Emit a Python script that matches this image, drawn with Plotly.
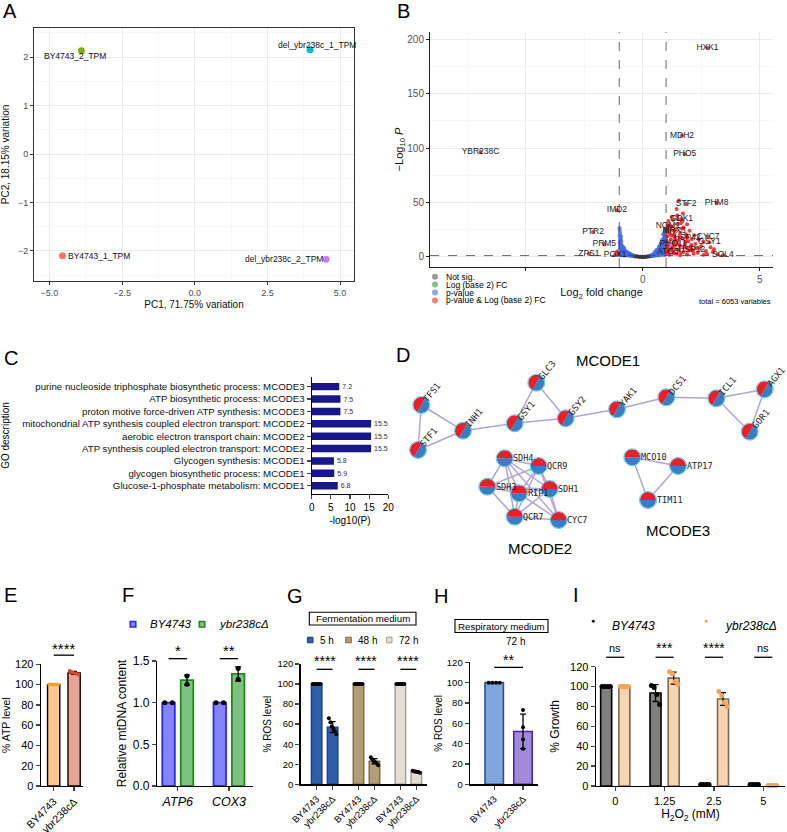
import math
import plotly.graph_objects as go

W, H = 787, 832
SANS = "Liberation Sans, Arial, Helvetica, sans-serif"
MONO = "DejaVu Sans Mono, monospace"

# ======================= DATA =======================
# ---- A: PCA ----
pca_samples = ["BY4743_1_TPM", "BY4743_2_TPM", "del_ybr238c_1_TPM", "del_ybr238c_2_TPM"]
pca_pc1 = [-4.55, -3.90, 3.97, 4.52]
pca_pc2 = [-2.10, 2.13, 2.15, -2.17]
pca_var = [71.75, 18.15]

# ---- B: volcano ----
volc_label_genes = ["HXK1", "MDH2", "PHO5", "YBR238C", "PHM8", "STF2", "IMD2", "GDK1", "NQM1", "MRX3",
                    "PTR2", "HSP42", "CYC7", "GSY1", "PRM5", "PHO11", "HSP12", "ATO3", "ZPS1", "POX1", "SOL4"]
volc_label_lfc = [2.77, 1.68, 1.80, -6.93, 3.16, 1.86, -1.10, 1.66, 1.08, 1.34,
                  -2.12, 1.90, 2.80, 2.85, -1.64, 1.30, 2.10, 1.08, -2.30, -1.18, 3.43]
volc_label_mlogp = [192, 111.5, 94.5, 96.5, 49.6, 48.7, 43, 35, 29, 24,
                    23, 18, 18.7, 13.5, 11.6, 12.3, 6.7, 4.9, 2.8, 1.8, 1.6]
volc_both_lfc = [1.55, 1.45, 1.72, 1.48, 1.30, 1.10, 1.62, 1.90, 1.25, 1.75,
                 1.05, 1.40, 2.00, 1.15, 1.60, 1.85, 2.20, 1.05, 1.35, 1.70,
                 2.40, 1.20, 1.50, 1.95, 2.60, 1.10, 1.80, 2.25, 1.40, 1.02,
                 1.60, 2.05, 2.90, 1.25, 1.90, 2.45, 1.10, 1.55, 2.15, 2.70,
                 1.30, 1.75, 1.05, 2.35, 1.45, 1.90, 1.15, 2.60, 3.20, 1.60,
                 3.00, 1.35, 2.10, 1.05, 1.25, -1.10, -1.04,
                 1.02, 1.08, 1.12, 1.18, 1.22, 1.28, 1.33, 1.38, 1.42, 1.47,
                 1.52, 1.58, 1.64, 1.68, 1.78, 1.83, 1.88, 1.98, 2.08, 2.18,
                 2.28, 2.50, 2.75, 3.05, 1.50, 1.20, 1.70, 1.35]
volc_both_mlogp = [52, 44, 40, 38, 34, 33, 31, 30, 28, 27,
                   26, 25, 24, 22, 22, 21, 20, 19, 19, 17,
                   16, 16, 15, 14.5, 14, 13, 12, 12, 11, 10,
                   10, 9.5, 9, 8.5, 8, 7.5, 7, 6.5, 6, 5.5,
                   5, 4.5, 4, 4, 3, 2.5, 2, 2, 2.5, 1.6,
                   4.5, 14, 16.5, 23, 37, 5, 3,
                   15, 10, 29, 6, 20, 9, 3.5, 17, 7, 30,
                   12, 18, 4, 26, 9, 14, 19, 6, 11, 3,
                   8, 10, 2.8, 7, 35, 25, 33, 21]
volc_p_lfc = [-0.99, -0.97, -0.96, -0.94, -0.98, -0.92, -0.95, -0.90, -0.97, -0.88,
              -0.86, -0.93, -0.83, -0.80, -0.90, -0.77, -0.74, -0.85, -0.70, -0.96,
              -0.67, -0.80, -0.63, -0.92, -0.60, -0.75, -0.57, -0.86, -0.54, -0.68,
              -0.98, -0.50, -0.62, -0.46, -0.79, -0.42, -0.56, -0.89, -0.72, -0.95,
              -0.91, -0.84, -0.78, -0.71, -0.65, -0.58, -0.52,
              -0.99, -0.98, -0.97, -0.96, -0.95, -0.94, -0.93, -0.91, -0.89, -0.87,
              -0.85, -0.82, -0.80, -0.77, -0.73, -0.69, -0.66, -0.61, -0.55, -0.49,
              0.99, 0.97, 0.95, 0.98, 0.93, 0.96, 0.91, 0.99, 0.88, 0.94,
              0.86, 0.97, 0.84, 0.90, 0.81, 0.95, 0.78, 0.87, 0.75, 0.92,
              0.72, 0.83, 0.69, 0.98, 0.66, 0.79, 0.63, 0.89, 0.60, 0.74,
              0.57, 0.85, 0.54, 0.68, 0.51, 0.96, 0.48, 0.62, 0.45, 0.80,
              0.42, 0.56, 0.39, 0.72, 0.93, 0.36, 0.50, 0.64, 0.99, 0.92,
              0.85, 0.77, 0.70, 0.60, 0.53,
              0.99, 0.98, 0.97, 0.96, 0.95, 0.94, 0.93, 0.92, 0.91, 0.90,
              0.89, 0.88, 0.87, 0.86, 0.84, 0.82, 0.80, 0.78, 0.76, 0.74,
              0.71, 0.68, 0.65, 0.62, 0.58, 0.55, 0.52, 0.47, 0.44, 0.41]
volc_p_mlogp = [26.5, 22, 18, 16, 13, 11, 9.5, 8.5, 7, 7.5,
                6, 5.2, 5.5, 4.6, 4.2, 4, 3.5, 3.2, 3.1, 3,
                2.8, 2.6, 2.5, 2.3, 2.2, 2.1, 2.0, 1.9, 1.8, 1.75,
                1.7, 1.6, 1.55, 1.5, 1.5, 1.4, 1.38, 1.4, 1.35, 12,
                14, 9, 6.8, 5, 4.2, 3.3, 2.6,
                20, 24, 15, 10, 17, 8, 19, 6.5, 10.5, 5,
                7, 4, 8.5, 5.8, 4.8, 3.8, 2.2, 3.0, 2.4, 1.9,
                25, 23, 21, 19, 17.5, 16, 15, 14, 13, 12.5,
                11.5, 11, 10.2, 9.8, 9, 8.5, 8, 7.6, 7, 6.8,
                6.2, 6, 5.4, 5.5, 4.8, 4.6, 4.2, 4.3, 3.7, 3.5,
                3.2, 3.1, 2.8, 2.7, 2.4, 2.5, 2.1, 2.0, 1.8, 1.9,
                1.6, 1.55, 1.45, 1.5, 1.6, 1.35, 1.35, 1.4, 10, 20,
                14, 12, 9.5, 6.5, 5,
                17, 22, 8, 13, 24, 18, 11, 14.5, 6, 16.5,
                9.5, 21, 12, 5, 16, 7.5, 13.5, 10.5, 5.6, 9,
                7.8, 4, 6.2, 3.1, 4.5, 2.3, 3.6, 2.6, 2.0, 1.7]
volc_ns_lfc = [-0.52, -0.47, -0.43, -0.40, -0.36, -0.33, -0.30, -0.27, -0.24, -0.21,
               -0.18, -0.15, -0.12, -0.09, -0.06, -0.03, 0.0, 0.03, 0.06, 0.09,
               0.12, 0.15, 0.18, 0.21, 0.24, 0.27, 0.30, 0.33, 0.36, 0.40,
               0.44, 0.48, 0.52, -0.35, -0.25, -0.15, -0.05, 0.05, 0.15, 0.25,
               0.35, -0.28, 0.28, -0.10, 0.10, 0.0, -0.20, 0.20]
volc_ns_mlogp = [1.25, 1.1, 1.0, 0.9, 0.8, 0.7, 0.6, 0.5, 0.42, 0.35,
                 0.28, 0.2, 0.14, 0.09, 0.05, 0.02, 0.0, 0.02, 0.05, 0.09,
                 0.14, 0.2, 0.28, 0.35, 0.43, 0.52, 0.62, 0.72, 0.84, 0.98,
                 1.1, 1.2, 1.28, 0.3, 0.15, 0.06, 0.01, 0.02, 0.08, 0.2,
                 0.4, 0.9, 1.0, 0.45, 0.5, 0.35, 0.75, 0.8]
volc_total = 6053
volc_fc_cut = 1.0
volc_p_cut = 0.05
volc_legend = ["Not sig.", "Log (base 2) FC", "p-value", "p-value & Log (base 2) FC"]

# ---- C: GO enrichment ----
go_terms = ["purine nucleoside triphosphate biosynthetic process: MCODE3",
            "ATP biosynthetic process: MCODE3",
            "proton motive force-driven ATP synthesis: MCODE3",
            "mitochondrial ATP synthesis coupled electron transport: MCODE2",
            "aerobic electron transport chain: MCODE2",
            "ATP synthesis coupled electron transport: MCODE2",
            "Glycogen synthesis: MCODE1",
            "glycogen biosynthetic process: MCODE1",
            "Glucose-1-phosphate metabolism: MCODE1"]
go_mlog10p = [7.2, 7.5, 7.5, 15.5, 15.5, 15.5, 5.8, 5.9, 6.8]

# ---- D: MCODE networks (layout coordinates) ----
m1_nodes = ["TFS1", "STF1", "INH1", "GSY1", "GLC3", "GSY2", "YAK1", "DCS1", "ICL1", "AGX1", "GOR1"]
m1_x = [421.3, 418.0, 463.0, 514.7, 536.3, 565.7, 617.0, 666.3, 716.3, 764.7, 749.7]
m1_y = [405.0, 450.0, 430.7, 423.3, 382.7, 418.3, 409.3, 397.3, 398.3, 389.3, 431.7]
m1_edges = [("TFS1", "STF1"), ("TFS1", "INH1"), ("STF1", "INH1"), ("INH1", "GSY1"), ("GSY1", "GLC3"),
            ("GLC3", "GSY2"), ("GSY1", "GSY2"), ("GSY2", "YAK1"), ("YAK1", "DCS1"), ("DCS1", "ICL1"),
            ("ICL1", "AGX1"), ("ICL1", "GOR1"), ("AGX1", "GOR1")]
m2_nodes = ["SDH4", "QCR9", "SDH3", "RIP1", "SDH1", "QCR7", "CYC7"]
m2_x = [504.7, 538.7, 487.3, 519.0, 549.7, 514.7, 558.7]
m2_y = [458.3, 466.0, 486.7, 493.3, 489.0, 516.7, 520.0]
m2_edges = [("SDH4", "QCR9"), ("SDH4", "SDH3"), ("SDH4", "RIP1"), ("SDH4", "SDH1"), ("SDH4", "QCR7"),
            ("SDH4", "CYC7"), ("QCR9", "SDH3"), ("QCR9", "RIP1"), ("QCR9", "SDH1"), ("QCR9", "QCR7"),
            ("QCR9", "CYC7"), ("SDH3", "RIP1"), ("SDH3", "SDH1"), ("SDH3", "QCR7"), ("RIP1", "SDH1"),
            ("RIP1", "QCR7"), ("RIP1", "CYC7"), ("SDH1", "QCR7"), ("SDH1", "CYC7"), ("QCR7", "CYC7")]
m3_nodes = ["MCO10", "ATP17", "TIM11"]
m3_x = [632.3, 678.0, 648.0]
m3_y = [457.3, 466.0, 500.0]
m3_edges = [("MCO10", "ATP17"), ("MCO10", "TIM11"), ("ATP17", "TIM11")]
mcode_titles = ["MCODE1", "MCODE2", "MCODE3"]
mcode_title_x = [608.0, 540.3, 678.0]
mcode_title_y = [360.0, 548.3, 530.0]

# ---- E: ATP ----
strains = ["BY4743", "ybr238cΔ"]
atp_mean = [100.0, 111.5]
atp_sd = [0.0, 1.5]
atp_points = [[100, 100, 100, 100], [113.5, 112.0, 111.0, 110.0]]
atp_sig = "****"

# ---- F: mtDNA ----
mt_genes = ["ATP6", "COX3"]
mt_by_mean = [1.0, 1.0]
mt_ybr_mean = [1.27, 1.345]
mt_ybr_sd = [0.06, 0.085]
mt_by_points = [[1.0, 1.0], [1.0, 1.0]]
mt_ybr_points = [[1.32, 1.22], [1.41, 1.28]]
mt_sig = ["*", "**"]

# ---- G: ROS fermentation ----
ros_times = ["5 h", "48 h", "72 h"]
ros_by_mean = [100.0, 100.0, 100.0]
ros_ybr_mean = [57.0, 23.0, 12.5]
ros_ybr_sd = [5.5, 2.6, 0.8]
ros_by_points = [[100, 100, 100, 100, 100, 100], [100, 100, 100, 100, 100, 100], [100, 100, 100, 100, 100, 100]]
ros_ybr_points = [[66, 62, 58, 56, 53, 50], [27, 25, 23, 22, 21, 19], [13.4, 13.0, 12.7, 12.3, 12.0, 11.6]]
ros_sig = ["****", "****", "****"]

# ---- H: ROS respiratory ----
resp_mean = [100.0, 52.0]
resp_sd = [0.0, 17.0]
resp_points = [[100, 100, 100, 100], [73, 56, 44, 35]]
resp_sig = "**"

# ---- I: H2O2 growth ----
h2o2_mM = ["0", "1.25", "2.5", "5"]
gr_by_mean = [100.0, 93.5, 1.5, 1.5]
gr_by_sd = [0.0, 8.5, 0.0, 0.0]
gr_ybr_mean = [100.0, 108.5, 87.5, 0.5]
gr_ybr_sd = [0.0, 6.0, 6.5, 0.0]
gr_by_points = [[100, 100, 100, 100], [101, 99, 92, 82], [1.5, 1.5, 1.5, 1.5], [1.5, 1.5, 1.5, 1.5]]
gr_ybr_points = [[100, 100, 100, 100, 100], [115, 113, 105, 102], [95, 91, 84, 80], [0.5, 0.5, 0.5, 0.5, 0.5]]
gr_sig = ["ns", "***", "****", "ns"]

# ======================= LAYOUT GEOMETRY =======================
P = {
    'A': dict(px=(34, 354), py=(28, 281), xr=(-5.53, 5.48), yr=(-2.62, 2.60), ax=''),
    'B': dict(px=(430, 773), py=(32, 267), xr=(-9.09, 5.57), yr=(-9.2, 206.7), ax='2'),
    'C': dict(px=(311.7, 388.3), py=(377, 494), xr=(0, 20), yr=(8.67, -0.78), ax='3'),
    'D': dict(px=(395, 787), py=(342, 565), xr=(395, 787), yr=(565, 342), ax='4'),
    'E': dict(px=(41, 83.3), py=(664.3, 786), xr=(-0.62, 1.45), yr=(0, 120), ax='5'),
    'F': dict(px=(157.3, 253), py=(661, 786), xr=(-0.40, 1.47), yr=(0, 1.5), ax='6'),
    'G': dict(px=(300.7, 426.7), py=(664, 784.3), xr=(-1.0, 6.9), yr=(0, 120), ax='7'),
    'H': dict(px=(470, 538), py=(662.3, 784.3), xr=(-0.84, 1.52), yr=(0, 120), ax='8'),
    'I': dict(px=(596, 785), py=(666.7, 786), xr=(-0.39, 3.44), yr=(0, 120), ax='9'),
}


def fx(p, v):
    x0, x1 = P[p]['px']
    r0, r1 = P[p]['xr']
    return (x0 + (v - r0) / (r1 - r0) * (x1 - x0)) / W


def fy(p, v):
    y0, y1 = P[p]['py']
    r0, r1 = P[p]['yr']
    return 1 - (y1 - (v - r0) / (r1 - r0) * (y1 - y0)) / H


def ppx(x):
    return x / W


def ppy(y):
    return 1 - y / H


def refs(p):
    a = P[p]['ax']
    return dict(xaxis='x' + a, yaxis='y' + a)


def xaxis_base(p, **kw):
    d = dict(domain=[P[p]['px'][0] / W, P[p]['px'][1] / W], range=list(P[p]['xr']),
             anchor='y' + P[p]['ax'], zeroline=False, showgrid=False, automargin=False)
    d.update(kw)
    return d


def yaxis_base(p, **kw):
    d = dict(domain=[1 - P[p]['py'][1] / H, 1 - P[p]['py'][0] / H], range=list(P[p]['yr']),
             anchor='x' + P[p]['ax'], zeroline=False, showgrid=False, automargin=False)
    d.update(kw)
    return d


fig = go.Figure()
ann = []
shp = []
lay = {}


def text(x, y, s, size, xanchor='center', yanchor='middle', color='black', angle=0, family=SANS, xref='paper', yref='paper'):
    ann.append(dict(x=x, y=y, xref=xref, yref=yref, text=s, showarrow=False, xanchor=xanchor,
                    yanchor=yanchor, textangle=angle, font=dict(size=size, color=color, family=family)))


def spread(n, width):
    if n == 1:
        return [0.0]
    return [(k - (n - 1) / 2) * width / (n - 1) for k in range(n)]


# ======================= A =======================
pca_colors = ["#F8766D", "#7CAE00", "#00BFC4", "#C77CFF"]
for s, x, y, c in zip(pca_samples, pca_pc1, pca_pc2, pca_colors):
    fig.add_trace(go.Scatter(x=[x], y=[y], mode='markers', marker=dict(size=7, color=c),
                             showlegend=False, hoverinfo='skip', **refs('A')))
pca_label_style = [dict(xanchor='left', xshift=4, yshift=0),
                   dict(xanchor='center', xshift=-6, yshift=-5.5),
                   dict(xanchor='center', xshift=7, yshift=4.5),
                   dict(xanchor='right', xshift=-1, yshift=0)]
for s, x, y, st in zip(pca_samples, pca_pc1, pca_pc2, pca_label_style):
    ann.append(dict(x=x, y=y, xref='x', yref='y', text=s, showarrow=False, xanchor=st['xanchor'],
                    yanchor='middle', xshift=st['xshift'], yshift=st['yshift'],
                    font=dict(size=8.5, color='#111', family=SANS)))
grid_major = '#EBEBEB'
grid_minor = '#F3F3F3'
lay['xaxis'] = xaxis_base('A', tick0=0, dtick=2.5, tickformat='.1f', showgrid=True, gridcolor=grid_major,
                          gridwidth=1, minor=dict(dtick=1.25, tick0=0, showgrid=True, gridcolor=grid_minor, gridwidth=0.6),
                          showline=True, mirror=True, linecolor='#333', linewidth=1, ticks='outside', ticklen=3,
                          tickcolor='#333', tickfont=dict(size=9, color='#4D4D4D'),
                          title=dict(text=f"PC1, {pca_var[0]}% variation", font=dict(size=10, color='#111'), standoff=4))
lay['yaxis'] = yaxis_base('A', tick0=0, dtick=1, showgrid=True, gridcolor=grid_major, gridwidth=1,
                          minor=dict(dtick=0.5, tick0=0, showgrid=True, gridcolor=grid_minor, gridwidth=0.6),
                          showline=True, mirror=True, linecolor='#333', linewidth=1, ticks='outside', ticklen=3,
                          tickcolor='#333', tickfont=dict(size=9, color='#4D4D4D'),
                          title=dict(text=f"PC2, {pca_var[1]}% variation", font=dict(size=10, color='#111'), standoff=6))

# ======================= B =======================
fig.add_trace(go.Scatter(x=volc_ns_lfc, y=volc_ns_mlogp, mode='markers', showlegend=False, hoverinfo='skip',
                         marker=dict(size=3.5, color='#3A3A3A', opacity=0.8), **refs('B')))
fig.add_trace(go.Scatter(x=volc_p_lfc, y=volc_p_mlogp, mode='markers', showlegend=False, hoverinfo='skip',
                         marker=dict(size=4.2, color='#4169E1', opacity=0.75), **refs('B')))
fig.add_trace(go.Scatter(x=volc_both_lfc, y=volc_both_mlogp, mode='markers', showlegend=False, hoverinfo='skip',
                         marker=dict(size=4.0, color='#EE0000', opacity=0.75), **refs('B')))
fig.add_trace(go.Scatter(x=volc_label_lfc, y=volc_label_mlogp, mode='markers+text', text=volc_label_genes,
                         textposition='middle center', textfont=dict(size=8.5, color='#1A1A1A', family=SANS),
                         cliponaxis=False, showlegend=False, hoverinfo='skip',
                         marker=dict(size=4.0, color='#EE0000', opacity=0.75), **refs('B')))
p_line = -math.log10(volc_p_cut)
for xv in (-volc_fc_cut, volc_fc_cut):
    shp.append(dict(type='line', xref='x2', yref='y2 domain', x0=xv, x1=xv, y0=0, y1=1,
                    line=dict(color='#444', width=0.8, dash='dash')))
shp.append(dict(type='line', xref='x2 domain', yref='y2', x0=0, x1=1, y0=p_line, y1=p_line,
                line=dict(color='#444', width=0.8, dash='dash')))
lay['xaxis2'] = xaxis_base('B', tickvals=[-5, 0, 5], ticktext=['', '0', '5'], showgrid=True, gridcolor=grid_major,
                           gridwidth=1, minor=dict(dtick=2.5, tick0=0, showgrid=True, gridcolor=grid_minor, gridwidth=0.6),
                           showline=True, linecolor='#222', linewidth=1, ticks='outside', ticklen=3,
                           tickcolor='#222', tickfont=dict(size=10, color='#555'),
                           title=dict(text="Log<sub>2</sub> fold change", font=dict(size=11, color='#111'), standoff=4))
lay['yaxis2'] = yaxis_base('B', tick0=0, dtick=50, showgrid=True, gridcolor=grid_major, gridwidth=1,
                           minor=dict(dtick=25, tick0=0, showgrid=True, gridcolor=grid_minor, gridwidth=0.6),
                           showline=True, linecolor='#222', linewidth=1, ticks='outside', ticklen=3,
                           tickcolor='#222', tickfont=dict(size=10, color='#555'),
                           title=dict(text="−Log<sub>10</sub> <i>P</i>", font=dict(size=11, color='#111'), standoff=1))
volc_legend_colors = ['#9A9A9A', '#80C080', '#93A9F2', '#F58080']
for i, (lbl, col) in enumerate(zip(volc_legend, volc_legend_colors)):
    yc = 276.7 + i * 7.9
    shp.append(dict(type='circle', xref='paper', yref='paper', x0=ppx(432), x1=ppx(438), y0=ppy(yc + 3), y1=ppy(yc - 3),
                    fillcolor=col, line=dict(width=0)))
    text(ppx(444), ppy(yc), lbl, 8.5, xanchor='left')
text(ppx(773), ppy(302), f"total = {volc_total} variables", 7.5, xanchor='right')

# ======================= C =======================
fig.add_trace(go.Bar(x=go_mlog10p, y=list(range(len(go_terms))), orientation='h', width=0.6,
                     marker=dict(color='#17178A', line=dict(width=0)),
                     text=[f"{v:.1f}" for v in go_mlog10p], textposition='outside',
                     textfont=dict(size=7, color='#333'), cliponaxis=False, showlegend=False, hoverinfo='skip',
                     **refs('C')))
lay['xaxis3'] = xaxis_base('C', tickvals=[0, 5, 10, 15, 20], showline=True, linecolor='black', linewidth=1.2,
                           ticks='outside', ticklen=4, tickwidth=1.2, tickfont=dict(size=10),
                           title=dict(text="-log10(P)", font=dict(size=10), standoff=4))
lay['yaxis3'] = yaxis_base('C', tickvals=list(range(len(go_terms))), ticktext=go_terms, showline=True,
                           linecolor='black', linewidth=1.2, ticks='outside', ticklen=4, tickwidth=1.2,
                           tickfont=dict(size=9.7, color='#111'),
                           title=dict(text="GO description", font=dict(size=10), standoff=12))

# ======================= D =======================
NODE_R = 8.0
RED = '#E8202A'
BLUE = '#3A7EC2'


def half_disc(cx, cy, a0, a1, n=24):
    xs, ys = [], []
    for k in range(n + 1):
        a = math.radians(a0 + (a1 - a0) * k / n)
        xs.append(cx + NODE_R * math.cos(a))
        ys.append(cy + NODE_R * math.sin(a))
    return xs, ys


def draw_cluster(nodes, xs, ys, edges, red_span, label_mode):
    pos = {n: (x, y) for n, x, y in zip(nodes, xs, ys)}
    ex, ey = [], []
    for a, b in edges:
        ex += [pos[a][0], pos[b][0], None]
        ey += [pos[a][1], pos[b][1], None]
    fig.add_trace(go.Scatter(x=ex, y=ey, mode='lines', line=dict(color='#B3A4D8', width=1.5),
                             showlegend=False, hoverinfo='skip', **refs('D')))
    rx, ry, bx, by = [], [], [], []
    for n in nodes:
        cx, cy = pos[n]
        a, b = half_disc(cx, cy, red_span[0], red_span[1])
        rx += a + [None]
        ry += b + [None]
        a, b = half_disc(cx, cy, red_span[1], red_span[0] + 360)
        bx += a + [None]
        by += b + [None]
    fig.add_trace(go.Scatter(x=bx, y=by, mode='lines', fill='toself', fillcolor=BLUE, line=dict(width=0),
                             showlegend=False, hoverinfo='skip', **refs('D')))
    fig.add_trace(go.Scatter(x=rx, y=ry, mode='lines', fill='toself', fillcolor=RED, line=dict(width=0),
                             showlegend=False, hoverinfo='skip', **refs('D')))
    fig.add_trace(go.Scatter(x=list(xs), y=list(ys), mode='markers',
                             marker=dict(size=2 * NODE_R + 1, color='rgba(0,0,0,0)', line=dict(color='#5CC3EE', width=1)),
                             showlegend=False, hoverinfo='skip', **refs('D')))
    for n in nodes:
        cx, cy = pos[n]
        if label_mode == 'rot':
            L = len(n) * 0.602 * 9
            ang = math.radians(50)
            sx, sy = cx + 4, cy - 4.5
            tx, ty = sx + L / 2 * math.cos(ang), sy - L / 2 * math.sin(ang)
            text(tx, ty, n, 9, angle=-50, family=MONO, color='#222', xref='x4', yref='y4')
        else:
            text(cx + 6.5, cy, n, 8.5, xanchor='left', family=MONO, color='#222', xref='x4', yref='y4')


draw_cluster(m1_nodes, m1_x, m1_y, m1_edges, (120, 300), 'rot')
draw_cluster(m2_nodes, m2_x, m2_y, m2_edges, (180, 360), 'flat')
draw_cluster(m3_nodes, m3_x, m3_y, m3_edges, (180, 360), 'flat')
for t, x, y in zip(mcode_titles, mcode_title_x, mcode_title_y):
    text(x, y, t, 15, xref='x4', yref='y4')
lay['xaxis4'] = xaxis_base('D', visible=False)
lay['yaxis4'] = yaxis_base('D', visible=False)

# ======================= bar panels helpers =======================


def bar_x(p, tickvals, ticktext, size, angle=0, **kw):
    return xaxis_base(p, tickvals=tickvals, ticktext=ticktext, tickangle=angle, showline=True, linecolor='black',
                      linewidth=1.4, ticks='outside', ticklen=4, tickwidth=1.4, tickfont=dict(size=size), **kw)


def bar_y(p, dtick, size, title, tsize, standoff, fmt=None):
    d = yaxis_base(p, tick0=0, dtick=dtick, showline=True, linecolor='black', linewidth=1.4, ticks='outside',
                   ticklen=4, tickwidth=1.4, tickfont=dict(size=size),
                   title=dict(text=title, font=dict(size=tsize), standoff=standoff))
    if fmt:
        d['tickformat'] = fmt
    return d


def add_bar(p, x, y, w, fill, edge, lw=1.4, sd=None):
    kw = {}
    if sd is not None:
        kw['error_y'] = dict(type='data', array=sd, visible=True, color='black', thickness=1.3, width=3)
    fig.add_trace(go.Bar(x=x, y=y, width=w, marker=dict(color=fill, line=dict(color=edge, width=lw)),
                         showlegend=False, hoverinfo='skip', **kw, **refs(p)))


def add_dots(p, xc, pts, w, color, size=4.5):
    offs = spread(len(pts), w)
    fig.add_trace(go.Scatter(x=[xc + o for o in offs], y=pts, mode='markers', cliponaxis=False,
                             marker=dict(size=size, color=color), showlegend=False, hoverinfo='skip', **refs(p)))


def add_sig(p, xa, xb, yline, ytext, s, size):
    shp.append(dict(type='line', xref='paper', yref='paper', x0=fx(p, xa), x1=fx(p, xb),
                    y0=fy(p, yline), y1=fy(p, yline), line=dict(color='black', width=1.3)))
    text(fx(p, (xa + xb) / 2), fy(p, ytext), s, size)


# ======================= E =======================
E_W = 0.6
e_fill = ['#FFC98C', '#EBA391']
e_dot = ['#F5A030', '#E0452D']
for i in range(2):
    add_bar('E', [i], [atp_mean[i]], E_W, e_fill[i], 'black', sd=[atp_sd[i]] if atp_sd[i] > 0 else None)
    add_dots('E', i, atp_points[i], E_W * 0.7, e_dot[i], 4)
add_sig('E', 0, 1, 129, 136, atp_sig, 15)
lay['xaxis5'] = bar_x('E', [0, 1], strains, 10.5, -45)
lay['yaxis5'] = bar_y('E', 20, 11, "% ATP level", 10.5, 6)

# ======================= F =======================
F_W = 0.245
F_OFF = 0.18
for i in range(2):
    add_bar('F', [i - F_OFF], [mt_by_mean[i]], F_W, '#8484FF', '#2A2AF0', lw=1.8)
    add_bar('F', [i + F_OFF], [mt_ybr_mean[i]], F_W, '#80C080', '#1E8A1E', lw=1.8, sd=[mt_ybr_sd[i]])
    add_dots('F', i - F_OFF, mt_by_points[i], F_W * 0.6, 'black', 5)
    fig.add_trace(go.Scatter(x=[i + F_OFF, i + F_OFF], y=mt_ybr_points[i], mode='markers', cliponaxis=False,
                             marker=dict(size=5, color='black'), showlegend=False, hoverinfo='skip', **refs('F')))
    add_sig('F', i - F_OFF, i + F_OFF, 1.528, 1.625, mt_sig[i], 15)
lay['xaxis6'] = bar_x('F', [0, 1], [f"<i>{g}</i>" for g in mt_genes], 12.5)
lay['yaxis6'] = bar_y('F', 0.5, 12, "Relative mtDNA content", 12, 3, fmt='.1f')
# legend F
for (cx, fill, edge, lab) in [(133, '#8484FF', '#2A2AF0', strains[0]), (202, '#80C080', '#1E8A1E', strains[1])]:
    shp.append(dict(type='rect', xref='paper', yref='paper', x0=ppx(cx - 2.8), x1=ppx(cx + 2.8),
                    y0=ppy(624.3 + 2.8), y1=ppy(624.3 - 2.8), fillcolor=fill, line=dict(color=edge, width=1.5)))
    text(ppx(cx + 14.5), ppy(624.3), f"<i>{lab}</i>", 11.5, xanchor='left')

# ======================= G =======================
G_STEP = 2.625
G_W = 0.66
g_fill = ['#2F5DAA', '#B39D72', '#E2DED3']
g_edge = ['#1D3F82', '#7D6844', '#A29E92']
g_ticks, g_text = [], []
for gi in range(3):
    xb, xy_ = gi * G_STEP, gi * G_STEP + 1
    add_bar('G', [xb], [ros_by_mean[gi]], G_W, g_fill[gi], g_edge[gi])
    add_bar('G', [xy_], [ros_ybr_mean[gi]], G_W, g_fill[gi], g_edge[gi], sd=[ros_ybr_sd[gi]])
    add_dots('G', xb, ros_by_points[gi], G_W * 0.75, 'black', 4)
    add_dots('G', xy_, ros_ybr_points[gi], G_W * 0.7, 'black', 4)
    add_sig('G', xb, xy_, 114.7, 123, ros_sig[gi], 14)
    g_ticks += [xb, xy_]
    g_text += strains
lay['xaxis7'] = bar_x('G', g_ticks, g_text, 9.5, -45)
lay['yaxis7'] = bar_y('G', 20, 9.5, "% ROS level", 10, 4)
shp.append(dict(type='rect', xref='paper', yref='paper', x0=ppx(309.3), x1=ppx(416), y0=ppy(625), y1=ppy(612.3),
                fillcolor='white', line=dict(color='black', width=1.1)))
text(ppx(362.6), ppy(618.8), "Fermentation medium", 9.7)
g_leg_sq = [310.2, 348.5, 389.2]
for gi in range(3):
    cx = g_leg_sq[gi]
    shp.append(dict(type='rect', xref='paper', yref='paper', x0=ppx(cx - 2.8), x1=ppx(cx + 2.8),
                    y0=ppy(640 + 2.8), y1=ppy(640 - 2.8), fillcolor=g_fill[gi], line=dict(color=g_edge[gi], width=1)))
    text(ppx(cx + 7.5), ppy(640), ros_times[gi], 10, xanchor='left')

# ======================= H =======================
H_W = 0.64
add_bar('H', [0], [resp_mean[0]], H_W, '#7EA6DC', '#2B4E9B', lw=1.6)
add_bar('H', [1], [resp_mean[1]], H_W, '#A08AD9', '#4A2A9A', lw=1.6, sd=[resp_sd[1]])
add_dots('H', 0, resp_points[0], H_W * 0.6, 'black', 4)
fig.add_trace(go.Scatter(x=[1, 1, 1, 1], y=resp_points[1], mode='markers', cliponaxis=False,
                         marker=dict(size=4, color='black'), showlegend=False, hoverinfo='skip', **refs('H')))
add_sig('H', 0, 1, 115, 122.5, resp_sig, 14)
lay['xaxis8'] = bar_x('H', [0, 1], strains, 9.5, -45)
lay['yaxis8'] = bar_y('H', 20, 9.5, "% ROS level", 10, 2)
shp.append(dict(type='rect', xref='paper', yref='paper', x0=ppx(455), x1=ppx(548), y0=ppy(632.5), y1=ppy(619.5),
                fillcolor='white', line=dict(color='black', width=1.1)))
text(ppx(501.5), ppy(626), "Respiratory medium", 9.7)
text(ppx(515), ppy(641.5), "72 h", 10)

# ======================= I =======================
I_W = 0.223
I_OFF = 0.184
for i in range(4):
    add_bar('I', [i - I_OFF], [gr_by_mean[i]], I_W, '#7F7F7F', 'black', lw=1.6,
            sd=[gr_by_sd[i]] if gr_by_sd[i] > 0 else None)
    add_bar('I', [i + I_OFF], [gr_ybr_mean[i]], I_W, '#F8D5B2', '#7E6A54', lw=1.6,
            sd=[gr_ybr_sd[i]] if gr_ybr_sd[i] > 0 else None)
    add_dots('I', i - I_OFF, gr_by_points[i], I_W * 0.75, 'black', 5)
    add_dots('I', i + I_OFF, gr_ybr_points[i], I_W * 0.75, '#F2A55A', 5)
    add_sig('I', i - I_OFF, i + I_OFF, 129.5, 139, gr_sig[i], 11 if gr_sig[i] == 'ns' else 14)
lay['xaxis9'] = bar_x('I', [0, 1, 2, 3], h2o2_mM, 11,
                      title=dict(text="H<sub>2</sub>O<sub>2</sub> (mM)", font=dict(size=12), standoff=4))
lay['yaxis9'] = bar_y('I', 20, 11, "% Growth", 12, 8)
ann.append(dict(x=ppx(596.7), y=ppy(626), xref='paper', yref='paper', text="●", showarrow=False,
                font=dict(size=7, color='black', family=SANS)))
text(ppx(610), ppy(626), f"<i>{strains[0]}</i>", 12, xanchor='left')
ann.append(dict(x=ppx(709.5), y=ppy(626), xref='paper', yref='paper', text="●", showarrow=False,
                font=dict(size=7, color='#F2A55A', family=SANS)))
text(ppx(723.3), ppy(626), f"<i>{strains[1]}</i>", 12, xanchor='left')

# ======================= panel letters =======================
for L_, x, y in [("A", 1, 11), ("B", 395, 11), ("C", 2, 358), ("D", 394, 355), ("E", 2, 595),
                 ("F", 120, 595), ("G", 285, 596), ("H", 432, 596), ("I", 571, 595)]:
    text(ppx(x), ppy(y), L_, 20, xanchor='left')

fig.update_layout(template='none', width=W, height=H, margin=dict(l=0, r=0, t=0, b=0), paper_bgcolor='white',
                  plot_bgcolor='white', barmode='overlay', showlegend=False, hovermode=False,
                  font=dict(family=SANS, color='black'), annotations=ann, shapes=shp, **lay)
fig.write_html("out.html", config={'displayModeBar': False, 'staticPlot': True},
               post_script="document.body.style.margin='0';document.body.style.overflow='hidden';")
